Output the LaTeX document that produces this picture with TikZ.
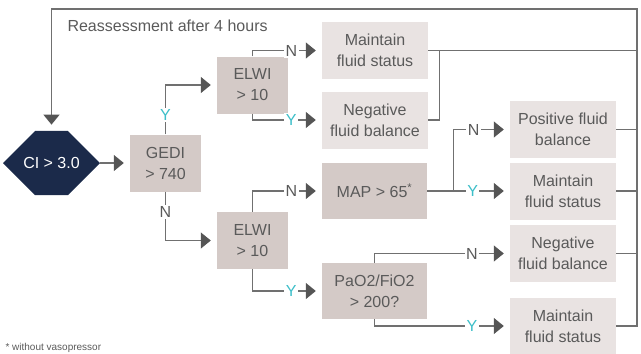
\documentclass[tikz,border=0pt]{standalone}
\usepackage{fontspec}
\setmainfont{Liberation Sans}
\usetikzlibrary{arrows.meta}
\usetikzlibrary{shapes.misc}
\definecolor{navy}{HTML}{1B2A4A}
\definecolor{taupe}{HTML}{D4CAC7}
\definecolor{paletaupe}{HTML}{E9E3E2}
\definecolor{txtgray}{HTML}{5A5A5A}
\definecolor{linegray}{HTML}{707070}
\definecolor{tipgray}{HTML}{555555}
\definecolor{ycyan}{HTML}{3DBFC9}

\begin{document}
\begin{tikzpicture}[x=1pt,y=-1pt,
        font=\fontsize{16}{21}\selectfont,
        decision/.style={fill=taupe,text=txtgray,align=center,inner sep=0pt,minimum width=71pt,minimum height=57pt},
        outcome/.style={fill=paletaupe,text=txtgray,align=center,inner sep=0pt,minimum width=106pt,minimum height=57pt},
        hexa/.style={chamfered rectangle,chamfered rectangle xsep=32pt,chamfered rectangle ysep=26.5pt,fill=navy,text=white,minimum width=97pt,minimum height=53pt,inner sep=0pt},
        flow/.style={draw=linegray,line width=1.2pt,-{Triangle[length=10pt,width=16pt,color=tipgray]},shorten >=6pt},
        link/.style={draw=linegray,line width=1.2pt},
        lab/.style={fill=white,text=txtgray,inner sep=1.5pt},
        ylab/.style={lab,text=ycyan}]
        \useasboundingbox (0,0) rectangle (641,354);
        \node[hexa] (ci) at (51.5,163) {CI > 3.0};
        \node[decision] (gedi) at (165.5,163) {GEDI\\> 740};
        \node[decision] (elwia) at (252.5,85) {ELWI\\> 10};
        \node[decision] (elwib) at (252.5,240.5) {ELWI\\> 10};
        \node[outcome] (keepa) at (375,50.5) {Maintain\\fluid status};
        \node[outcome] (nega) at (375,120) {Negative\\fluid balance};
        \node[decision,minimum width=105pt,minimum height=56pt] (map) at (374.5,191) {MAP > 65\textsuperscript{*}};
        \node[decision,minimum width=105pt,minimum height=56pt] (pao) at (374.5,291) {PaO2/FiO2\\> 200?};
        \node[outcome] (posb) at (563,129.5) {Positive fluid\\balance};
        \node[outcome] (keepb) at (563,191) {Maintain\\fluid status};
        \node[outcome] (negb) at (563,253.5) {Negative\\fluid balance};
        \node[outcome] (keepc) at (563,326) {Maintain\\fluid status};
        \node[anchor=base west,text=txtgray] (reass) at (64,31) {Reassessment after 4 hours};
        \node[anchor=base west,text=txtgray,font=\fontsize{10}{12}\selectfont] (note) at (2,350.5) {* without vasopressor};
        \coordinate (corner) at (637,9);
        \path (map.east) ++(26,0) coordinate (split);
        \draw[flow] (ci.east) -- (gedi.west);
        \draw[flow] (gedi.north) |- node[ylab,pos=0.2]{Y} (elwia.west);
        \draw[flow] (gedi.south) |- node[lab,pos=0.21]{N} (elwib.west);
        \draw[flow] (elwia.north) |- node[lab,pos=0.78]{N} (keepa.west);
        \draw[flow] (elwia.south) |- node[ylab,pos=0.78]{Y} (nega.west);
        \draw[flow] (elwib.north) |- node[lab,pos=0.78]{N} (map.west);
        \draw[flow] (elwib.south) |- node[ylab,pos=0.78]{Y} (pao.west);
        \draw[flow] (map.east) -- node[ylab,pos=0.55]{Y} (keepb.west);
        \draw[flow] (split) |- node[lab,pos=0.68]{N} (posb.west);
        \draw[flow] (pao.north) |- node[lab,pos=0.86]{N} (negb.west);
        \draw[flow] (pao.south) |- node[ylab,pos=0.86]{Y} (keepc.west);
        \draw[link] (keepa.east) -- (keepa.east -| corner);
        \draw[link] (nega.east) -- ++(11,0) |- (keepa.east);
        \draw[link] (posb.east) -- (posb.east -| corner);
        \draw[link] (keepb.east) -- (keepb.east -| corner);
        \draw[link] (negb.east) -- (negb.east -| corner);
        \draw[flow] (keepc.east) -| (corner) -| (ci.north);
    \end{tikzpicture}
\end{document}
